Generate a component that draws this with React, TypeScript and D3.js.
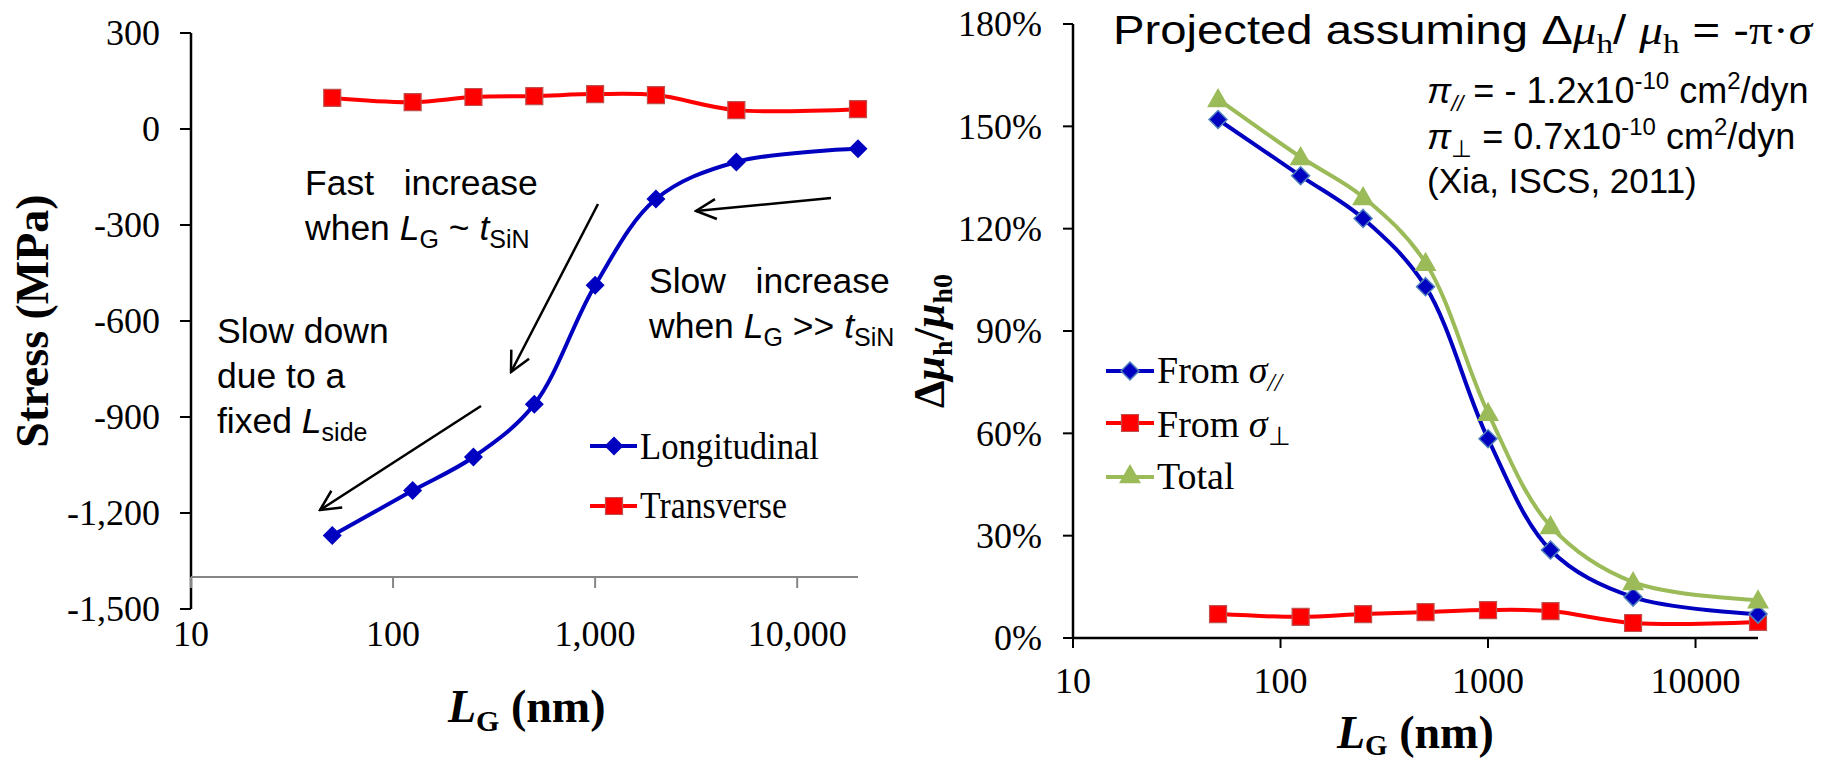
import * as d3 from 'd3'

// gate length (nm) for every measured point
const gateLengths = [50, 125, 250, 500, 1000, 2000, 5000, 20000]
// left panel: stress (MPa)
const longitudinal = [-1270, -1130, -1025, -860, -488, -219, -103, -62]
const transverse = [97, 84, 100, 103, 109, 106, 59, 62]
// right panel: mobility change (fraction)
const fromParallel = [1.52, 1.355, 1.23, 1.03, 0.584, 0.258, 0.12, 0.07]
const fromPerp = [0.07, 0.062, 0.07, 0.076, 0.082, 0.079, 0.044, 0.047]
const totalGain = [1.58, 1.41, 1.293, 1.1, 0.66, 0.328, 0.164, 0.111]

const stressTicks = [300, 0, -300, -600, -900, -1200, -1500]
const pctTicks = [0, 0.3, 0.6, 0.9, 1.2, 1.5, 1.8]
const decadeTicks = [10, 100, 1000, 10000]

const SERIF = '"Liberation Serif", "Times New Roman", serif'
const SANS = '"Liberation Sans", Arial, sans-serif'

const BLUE = '#0000c0'
const RED = '#ff0000'
const GREEN = '#9bbb59'

const diamond = (x: number, y: number, r = 9.5) =>
  `M${x},${y - r}L${x + r},${y}L${x},${y + r}L${x - r},${y}Z`
const square = (x: number, y: number, r = 8.5) =>
  `M${x - r},${y - r}H${x + r}V${y + r}H${x - r}Z`
const triangle = (x: number, y: number, r = 11) =>
  `M${x},${y - r}L${x + r},${y + r * 0.75}L${x - r},${y + r * 0.75}Z`

const minusFix = (s: string) => s.replace('\u2212', '-')

export default function App() {
  // left panel scales
  const xL = d3.scaleLog().domain([10, 20000]).range([191, 858])
  const yL = d3.scaleLinear().domain([-1500, 300]).range([609, 33])
  // right panel scales
  const xR = d3.scaleLog().domain([10, 20000]).range([1073, 1758])
  const yR = d3.scaleLinear().domain([0, 1.8]).range([638, 24])

  const lineL = d3
    .line<number>()
    .x((_, i) => xL(gateLengths[i]))
    .y((d) => yL(d))
    .curve(d3.curveCatmullRom.alpha(0.5))
  const lineR = d3
    .line<number>()
    .x((_, i) => xR(gateLengths[i]))
    .y((d) => yR(d))
    .curve(d3.curveCatmullRom.alpha(0.5))

  const xAxisLeftY = yL(-1400)
  const fmtComma = d3.format(',')
  const fmtPct = d3.format('.0%')

  return (
    <svg width={1839} height={761} style={{ display: 'block', position: 'absolute', left: 0, top: 0 }}>
      <defs>
        <marker id="openArrow" viewBox="0 0 24 24" refX={22} refY={12} markerWidth={24} markerHeight={24}
          markerUnits="userSpaceOnUse" orient="auto">
          <path d="M2,2 L22,12 L2,22" fill="none" stroke="#000" strokeWidth={2.5} />
        </marker>
      </defs>
      <rect width={1839} height={761} fill="#fff" />

      {/* ===== left panel ===== */}
      <line x1={191} x2={191} y1={33} y2={609} stroke="#000" strokeWidth={2.5} />
      {stressTicks.map((t) => (
        <g key={t}>
          <line x1={180} x2={191} y1={yL(t)} y2={yL(t)} stroke="#000" strokeWidth={2} />
          <text x={160} y={yL(t)} dy="0.34em" textAnchor="end" fontFamily={SERIF} fontSize={36}>
            {minusFix(fmtComma(t))}
          </text>
        </g>
      ))}
      <line x1={191} x2={858} y1={xAxisLeftY} y2={xAxisLeftY} stroke="#868686" strokeWidth={2} />
      {decadeTicks.map((t) => (
        <g key={t}>
          <line x1={xL(t)} x2={xL(t)} y1={xAxisLeftY} y2={xAxisLeftY + 11} stroke="#868686" strokeWidth={2} />
          <text x={xL(t)} y={646} textAnchor="middle" fontFamily={SERIF} fontSize={36}>
            {fmtComma(t)}
          </text>
        </g>
      ))}

      <text transform="translate(48,321) rotate(-90)" textAnchor="middle" fontFamily={SERIF}
        fontWeight="bold" fontSize={46}>
        Stress (MPa)
      </text>
      <text x={448} y={722} fontFamily={SERIF} fontWeight="bold" fontSize={46}>
        <tspan fontStyle="italic">L</tspan>
        <tspan fontSize={30} dy={9}>G</tspan>
        <tspan dy={-9}> (nm)</tspan>
      </text>

      <path d={lineL(transverse) ?? ''} fill="none" stroke={RED} strokeWidth={4} />
      <path d={lineL(longitudinal) ?? ''} fill="none" stroke={BLUE} strokeWidth={4} />
      {transverse.map((v, i) => (
        <path key={`t${i}`} d={square(xL(gateLengths[i]), yL(v))} fill={RED} stroke="#c0504d" strokeWidth={1.2} />
      ))}
      {longitudinal.map((v, i) => (
        <path key={`l${i}`} d={diamond(xL(gateLengths[i]), yL(v))} fill={BLUE} />
      ))}

      {/* left legend */}
      <line x1={590} x2={637} y1={446} y2={446} stroke={BLUE} strokeWidth={4} />
      <path d={diamond(614, 446)} fill={BLUE} />
      <text x={640} y={459} fontFamily={SERIF} fontSize={38} textLength={179} lengthAdjust="spacingAndGlyphs">
        Longitudinal
      </text>
      <line x1={590} x2={637} y1={506} y2={506} stroke={RED} strokeWidth={4} />
      <path d={square(614, 506)} fill={RED} stroke="#c0504d" strokeWidth={1.2} />
      <text x={640} y={518} fontFamily={SERIF} fontSize={38} textLength={147} lengthAdjust="spacingAndGlyphs">
        Transverse
      </text>

      {/* left annotations */}
      <g fontFamily={SANS} fontSize={35.5}>
        <text x={305} y={195} xmlSpace="preserve">Fast   increase</text>
        <text x={305} y={240}>
          <tspan>when </tspan>
          <tspan fontStyle="italic">L</tspan>
          <tspan fontSize={25} dy={8}>G</tspan>
          <tspan dy={-8}> ~ </tspan>
          <tspan fontStyle="italic">t</tspan>
          <tspan fontSize={25} dy={8}>SiN</tspan>
        </text>
        <text x={649} y={293} xmlSpace="preserve">Slow   increase</text>
        <text x={649} y={338}>
          <tspan>when </tspan>
          <tspan fontStyle="italic">L</tspan>
          <tspan fontSize={25} dy={8}>G</tspan>
          <tspan dy={-8}> &gt;&gt; </tspan>
          <tspan fontStyle="italic">t</tspan>
          <tspan fontSize={25} dy={8}>SiN</tspan>
        </text>
        <text x={217} y={343}>Slow down</text>
        <text x={217} y={388}>due to a</text>
        <text x={217} y={433}>
          <tspan>fixed </tspan>
          <tspan fontStyle="italic">L</tspan>
          <tspan fontSize={25} dy={8}>side</tspan>
        </text>
      </g>
      <g stroke="#000" strokeWidth={2.5} markerEnd="url(#openArrow)">
        <line x1={598} y1={204} x2={511} y2={372} />
        <line x1={831} y1={198} x2={696} y2={211} />
        <line x1={481} y1={406} x2={320} y2={510} />
      </g>

      {/* ===== right panel ===== */}
      <line x1={1073} x2={1073} y1={24} y2={638} stroke="#000" strokeWidth={2.5} />
      {pctTicks.map((t) => (
        <g key={t}>
          <line x1={1063} x2={1073} y1={yR(t)} y2={yR(t)} stroke="#000" strokeWidth={2} />
          <text x={1042} y={yR(t)} dy="0.34em" textAnchor="end" fontFamily={SERIF} fontSize={36}>
            {fmtPct(t)}
          </text>
        </g>
      ))}
      <line x1={1073} x2={1758} y1={638} y2={638} stroke="#000" strokeWidth={2.5} />
      {decadeTicks.map((t) => (
        <g key={t}>
          <line x1={xR(t)} x2={xR(t)} y1={638} y2={648} stroke="#000" strokeWidth={2} />
          <text x={xR(t)} y={693} textAnchor="middle" fontFamily={SERIF} fontSize={36}>
            {t}
          </text>
        </g>
      ))}

      <text transform="translate(944,341) rotate(-90)" textAnchor="middle" fontFamily={SERIF}
        fontWeight="bold" fontSize={44}>
        <tspan>Δ</tspan>
        <tspan fontStyle="italic">μ</tspan>
        <tspan fontSize={28} dy={8}>h</tspan>
        <tspan dy={-8}>/</tspan>
        <tspan fontStyle="italic">μ</tspan>
        <tspan fontSize={28} dy={8}>h0</tspan>
      </text>
      <text x={1337} y={748} fontFamily={SERIF} fontWeight="bold" fontSize={46}>
        <tspan fontStyle="italic">L</tspan>
        <tspan fontSize={29} dy={7}>G</tspan>
        <tspan dy={-7}> (nm)</tspan>
      </text>

      <path d={lineR(fromPerp) ?? ''} fill="none" stroke={RED} strokeWidth={4} />
      <path d={lineR(fromParallel) ?? ''} fill="none" stroke={BLUE} strokeWidth={4} />
      <path d={lineR(totalGain) ?? ''} fill="none" stroke={GREEN} strokeWidth={4} />
      {fromPerp.map((v, i) => (
        <path key={`p${i}`} d={square(xR(gateLengths[i]), yR(v))} fill={RED} stroke="#c0504d" strokeWidth={1.2} />
      ))}
      {fromParallel.map((v, i) => (
        <path key={`a${i}`} d={diamond(xR(gateLengths[i]), yR(v), 9)} fill={BLUE} stroke="#4f81bd" strokeWidth={1.5} />
      ))}
      {totalGain.map((v, i) => (
        <path key={`g${i}`} d={triangle(xR(gateLengths[i]), yR(v))} fill={GREEN} />
      ))}

      {/* right legend */}
      <g fontFamily={SERIF} fontSize={38}>
        <line x1={1106} x2={1154} y1={371} y2={371} stroke={BLUE} strokeWidth={4} />
        <path d={diamond(1130, 371, 9)} fill={BLUE} stroke="#4f81bd" strokeWidth={1.5} />
        <text x={1157} y={383}>
          <tspan>From </tspan>
          <tspan fontStyle="italic">σ</tspan>
          <tspan fontStyle="italic" fontSize={26} dy={8}>//</tspan>
        </text>
        <line x1={1106} x2={1154} y1={423} y2={423} stroke={RED} strokeWidth={4} />
        <path d={square(1130, 423)} fill={RED} stroke="#c0504d" strokeWidth={1.2} />
        <text x={1157} y={437}>
          <tspan>From </tspan>
          <tspan fontStyle="italic">σ</tspan>
          <tspan fontSize={26} dy={8}>⊥</tspan>
        </text>
        <line x1={1106} x2={1154} y1={477} y2={477} stroke={GREEN} strokeWidth={4} />
        <path d={triangle(1130, 475)} fill={GREEN} />
        <text x={1157} y={489}>Total</text>
      </g>

      {/* right title + annotations */}
      <text x={1113} y={44} fontFamily={SANS} fontSize={40} textLength={699} lengthAdjust="spacingAndGlyphs">
        <tspan>Projected assuming Δ</tspan>
        <tspan fontFamily={SERIF} fontStyle="italic">μ</tspan>
        <tspan fontFamily={SERIF} fontSize={28} dy={9}>h</tspan>
        <tspan dy={-9}>/ </tspan>
        <tspan fontFamily={SERIF} fontStyle="italic">μ</tspan>
        <tspan fontFamily={SERIF} fontSize={28} dy={9}>h</tspan>
        <tspan dy={-9}> = -</tspan>
        <tspan fontFamily={SERIF}>π·</tspan>
        <tspan fontFamily={SERIF} fontStyle="italic">σ</tspan>
      </text>
      <g fontFamily={SANS} fontSize={36}>
        <text x={1427} y={103}>
          <tspan fontStyle="italic">π</tspan>
          <tspan fontStyle="italic" fontSize={22} dy={8}>//</tspan>
          <tspan dy={-8}> = - 1.2x10</tspan>
          <tspan fontSize={24} dy={-14}>-10</tspan>
          <tspan dy={14}> cm</tspan>
          <tspan fontSize={24} dy={-14}>2</tspan>
          <tspan dy={14}>/dyn</tspan>
        </text>
        <text x={1427} y={149}>
          <tspan fontStyle="italic">π</tspan>
          <tspan fontFamily={SERIF} fontSize={24} dy={8}>⊥</tspan>
          <tspan dy={-8}> = 0.7x10</tspan>
          <tspan fontSize={24} dy={-14}>-10</tspan>
          <tspan dy={14}> cm</tspan>
          <tspan fontSize={24} dy={-14}>2</tspan>
          <tspan dy={14}>/dyn</tspan>
        </text>
        <text x={1427} y={193} fontSize={35}>(Xia, ISCS, 2011)</text>
      </g>
    </svg>
  )
}
